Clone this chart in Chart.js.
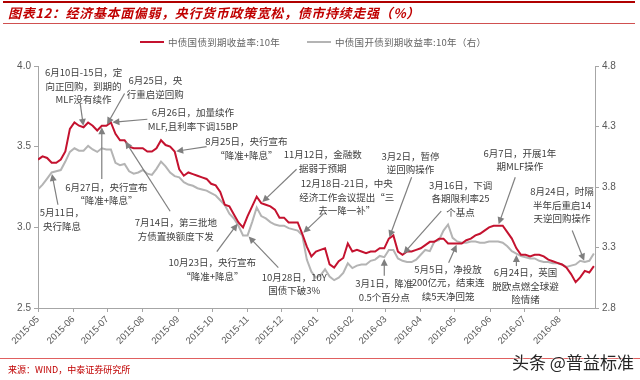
<!DOCTYPE html>
<html>
<head>
<meta charset="utf-8">
<script src="https://cdn.jsdelivr.net/npm/chart.js@4.4.0/dist/chart.umd.min.js"></script>
<style>
body { margin:0; width:640px; height:380px; overflow:hidden; background:#fff; position:relative; font-family:"Noto Sans CJK SC", sans-serif; }
canvas { position:absolute; left:0; top:0; }
.abs { position:absolute; white-space:nowrap; }
#topline { left:3px; top:1px; width:632px; height:2px; background:#b00000; }
#title { left:8px; top:4px; font-size:13px; font-weight:bold; font-style:italic; color:#c00000; line-height:18px; letter-spacing:0.65px; }
#titleline { left:3px; top:23px; width:632px; height:1px; background:#d05050; }
.leg { top:35px; font-size:9.5px; color:#666; line-height:14px; letter-spacing:0.3px; }
.leg i { display:inline-block; width:24px; height:2px; vertical-align:middle; margin-right:4px; position:relative; top:-1px; }
#footline { left:0; top:358px; width:640px; height:1px; background:#e06060; }
#source { left:8px; top:363px; font-size:9px; color:#c00000; line-height:14px; }
#mark { left:512px; top:351px; font-size:17px; color:#262626; line-height:22px; text-shadow:0 0 2px #fff, 0 0 2px #fff; }
</style>
</head>
<body>
<canvas id="chart" width="640" height="380"></canvas>
<div class="abs" id="topline"></div>
<div class="abs" id="title">图表12：经济基本面偏弱，央行货币政策宽松，债市持续走强（%）</div>
<div class="abs" id="titleline"></div>
<div class="abs leg" style="left:140px"><i style="background:#c4122f"></i>中债国债到期收益率:10年</div>
<div class="abs leg" style="left:307px"><i style="background:#b4b4b4"></i>中债国开债到期收益率:10年（右）</div>
<div class="abs" id="footline"></div>
<div class="abs" id="source">来源：WIND，中泰证券研究所</div>
<div class="abs" id="mark">头条 @普益标准</div>
<script>
// days counted from 2015-05-01
const days = [0,4,8,12,16,20,24,28,32,36,40,44,48,52,56,60,64,68,72,76,80,84,88,92,96,100,104,108,112,116,
  120,124,128,132,136,140,144,148,152,156,160,164,168,172,176,180,184,188,192,196,200,204,208,212,216,220,224,228,232,236,
  240,244,248,252,256,260,264,268,272,276,280,284,288,292,296,300,304,308,312,316,320,324,328,332,336,340,344,348,352,356,
  360,364,368,372,376,380,384,388,392,396,400,404,408,412,416,420,424,428,432,436,440,444,448,452,456,460,464,468,472,476,
  480,484,488];

// 中债国债到期收益率:10年 (left axis)
const cgbYield = [3.42,3.44,3.43,3.40,3.40,3.42,3.47,3.61,3.65,3.63,
  3.62,3.65,3.63,3.60,3.63,3.63,3.65,3.58,3.54,3.54,
  3.50,3.49,3.49,3.49,3.47,3.47,3.49,3.54,3.51,3.50,
  3.47,3.36,3.32,3.34,3.33,3.32,3.31,3.30,3.27,3.26,
  3.22,3.14,3.13,3.08,3.03,3.00,3.07,3.13,3.19,3.15,
  3.14,3.13,3.11,3.06,3.06,3.03,3.03,3.03,2.96,2.88,
  2.82,2.85,2.86,2.87,2.77,2.75,2.79,2.81,2.90,2.85,
  2.86,2.85,2.84,2.85,2.85,2.87,2.87,2.93,2.95,2.85,
  2.83,2.85,2.85,2.86,2.87,2.89,2.91,2.91,2.93,2.93,
  2.90,2.90,2.90,2.90,2.92,2.93,2.95,2.96,2.98,3.00,
  3.01,3.01,3.01,2.97,2.93,2.87,2.83,2.83,2.82,2.83,
  2.83,2.82,2.80,2.79,2.78,2.77,2.75,2.71,2.66,2.69,
  2.73,2.72,2.76];

// 中债国开债到期收益率:10年 (right axis)
const cdbYield = [3.78,3.82,3.87,3.92,3.93,3.94,4.01,4.09,4.12,4.10,
  4.10,4.14,4.11,4.09,4.12,4.11,4.11,4.00,3.98,3.99,
  3.93,3.91,3.92,3.94,3.91,3.90,3.95,4.01,3.97,3.92,
  3.89,3.88,3.84,3.82,3.81,3.79,3.78,3.77,3.75,3.73,
  3.69,3.65,3.58,3.54,3.48,3.40,3.40,3.51,3.63,3.56,
  3.54,3.51,3.49,3.48,3.48,3.46,3.45,3.44,3.40,3.20,
  3.10,3.05,3.07,3.12,3.06,3.03,3.05,3.09,3.17,3.13,
  3.15,3.16,3.16,3.19,3.20,3.23,3.22,3.28,3.28,3.21,
  3.19,3.18,3.18,3.20,3.24,3.28,3.27,3.35,3.36,3.44,
  3.49,3.38,3.35,3.34,3.34,3.35,3.35,3.34,3.34,3.35,
  3.35,3.35,3.34,3.31,3.27,3.25,3.23,3.22,3.21,3.21,
  3.19,3.18,3.18,3.17,3.17,3.16,3.14,3.15,3.16,3.19,
  3.18,3.19,3.25];

const monthTicks = [0,31,61,92,123,153,184,214,245,276,305,336,366,397,427,458];
const monthLabels = ['2015-05','2015-06','2015-07','2015-08','2015-09','2015-10','2015-11','2015-12',
  '2016-01','2016-02','2016-03','2016-04','2016-05','2016-06','2016-07','2016-08'];
const leftTicks = [2.5, 3.0, 3.5, 4.0];
const rightTicks = [2.8, 3.3, 3.8, 4.3, 4.8];

// text position / arrow start in [day, left-axis value]; tip = index into days on a series
const notes = [
  {lines:['5月11日，','央行降息'], at:[21,3.09], from:[17.5,3.14], tip:3, on:'cdb'},
  {lines:['6月10日-15日，定','向正回购，到期的','MLF没有续作'], at:[40,3.96], from:[37,3.77], tip:10, on:'cgb'},
  {lines:['6月25日，央','行重启逆回购'], at:[103,3.91], from:[76,3.83], tip:15, on:'cgb'},
  {lines:['6月26日，加量续作','MLF,且利率下调15BP'], at:[136,3.71], from:[96,3.67], tip:16, on:'cgb'},
  {lines:['6月27日，央行宣布','“降准+降息”'], at:[60,3.25], from:[56,3.30], tip:14, on:'cgb'},
  {lines:['7月14日，第三批地','方债置换额度下发'], at:[121,3.03], from:[116,3.10], tip:19, on:'cgb'},
  {lines:['8月25日，央行宣布','“降准+降息”'], at:[183,3.53], from:[148,3.50], tip:30, on:'cgb'},
  {lines:['11月12日，金融数','据弱于预期'], at:[250,3.45], from:[227,3.36], tip:49, on:'cgb'},
  {lines:['12月18日-21日，中央','经济工作会议提出“三','去一降一补”'], at:[271,3.27], from:[250,3.08], tip:58, on:'cgb'},
  {lines:['10月23日，央行宣布','“降准+降息”'], at:[153,2.78], from:[157,2.85], tip:44, on:'cgb'},
  {lines:['10月28日，10Y','国债下破3%'], at:[225,2.69], from:[211,2.75], tip:46, on:'cdb'},
  {lines:['3月1日，降准','0.5个百分点'], at:[304,2.65], from:[304,2.70], tip:76, on:'cdb'},
  {lines:['3月2日，暂停','逆回购操作'], at:[327,3.44], from:[328,3.31], tip:77, on:'cgb'},
  {lines:['3月16日，下调','各期限利率25','个基点'], at:[371,3.26], from:[354,3.10], tip:80, on:'cgb'},
  {lines:['5月5日，净投放','200亿元，结束连','续5天净回笼'], at:[360,2.74], from:[360.5,2.78], tip:92, on:'cgb'},
  {lines:['6月7日，开展1年','期MLF操作'], at:[423,3.46], from:[419,3.31], tip:101, on:'cgb'},
  {lines:['6月24日，英国','脱欧点燃全球避','险情绪'], at:[428,2.72], from:[420,2.76], tip:105, on:'cdb'},
  {lines:['8月24日，时隔','半年后重启14','天逆回购操作'], at:[460,3.22], from:[469,2.98], tip:120, on:'cdb'}
];

const notePlugin = {
  id: 'notes',
  afterDatasetsDraw(chart) {
    const ctx = chart.ctx;
    const x = chart.scales.x, y = chart.scales.y, y1 = chart.scales.y1;
    ctx.save();
    notes.forEach(n => {
      const tx = x.getPixelForValue(days[n.tip]);
      const ty = n.on === 'cgb' ? y.getPixelForValue(cgbYield[n.tip]) : y1.getPixelForValue(cdbYield[n.tip]);
      const fx = x.getPixelForValue(n.from[0]), fy = y.getPixelForValue(n.from[1]);
      const ang = Math.atan2(ty - fy, tx - fx);
      const ex = tx - Math.cos(ang) * 1.5, ey = ty - Math.sin(ang) * 1.5;
      ctx.strokeStyle = '#7f7f7f';
      ctx.fillStyle = '#7f7f7f';
      ctx.lineWidth = 1.2;
      ctx.beginPath();
      ctx.moveTo(fx, fy);
      ctx.lineTo(ex - Math.cos(ang) * 5, ey - Math.sin(ang) * 5);
      ctx.stroke();
      ctx.beginPath();
      ctx.moveTo(ex, ey);
      ctx.lineTo(ex - Math.cos(ang) * 7 + Math.sin(ang) * 3.5, ey - Math.sin(ang) * 7 - Math.cos(ang) * 3.5);
      ctx.lineTo(ex - Math.cos(ang) * 7 - Math.sin(ang) * 3.5, ey - Math.sin(ang) * 7 + Math.cos(ang) * 3.5);
      ctx.closePath();
      ctx.fill();

      const px = x.getPixelForValue(n.at[0]), py = y.getPixelForValue(n.at[1]);
      ctx.fillStyle = '#404040';
      ctx.font = '9.5px "Noto Sans CJK SC"';
      ctx.textAlign = 'center';
      ctx.textBaseline = 'middle';
      n.lines.forEach((t, i) => ctx.fillText(t, px, py + i * 13.5));
    });
    ctx.restore();
  }
};

const axisColor = '#a6a6a6';
const tickFont = {family: '"Liberation Sans", Arial, sans-serif', size: 10};

new Chart(document.getElementById('chart'), {
  type: 'line',
  data: {
    datasets: [
      {
        label: '中债国债到期收益率:10年',
        data: days.map((d, i) => ({x: d, y: cgbYield[i]})),
        borderColor: '#c4122f',
        borderWidth: 2,
        pointRadius: 0,
        tension: 0,
        yAxisID: 'y',
        order: 0
      },
      {
        label: '中债国开债到期收益率:10年（右）',
        data: days.map((d, i) => ({x: d, y: cdbYield[i]})),
        borderColor: '#b4b4b4',
        borderWidth: 2,
        pointRadius: 0,
        tension: 0,
        yAxisID: 'y1',
        order: 1
      }
    ]
  },
  options: {
    responsive: false,
    animation: false,
    devicePixelRatio: 1,
    layout: {padding: {top: 66, left: 0, right: 0, bottom: 0}},
    plugins: {legend: {display: false}, tooltip: {enabled: false}},
    scales: {
      x: {
        type: 'linear', min: 0, max: 489,
        afterBuildTicks: s => { s.ticks = monthTicks.map(v => ({value: v})); },
        afterFit: s => { s.height = 72; },
        grid: {drawOnChartArea: false, color: axisColor, tickLength: 4},
        border: {color: axisColor},
        ticks: {
          autoSkip: false, minRotation: 45, maxRotation: 45, padding: 2,
          color: '#595959', font: {family: tickFont.family, size: 9.5},
          callback: (v, i) => monthLabels[i]
        }
      },
      y: {
        position: 'left', min: 2.5, max: 4.0,
        afterBuildTicks: s => { s.ticks = leftTicks.map(v => ({value: v})); },
        afterFit: s => { s.width = 38; },
        grid: {drawOnChartArea: false, color: axisColor, tickLength: 4},
        border: {color: axisColor},
        ticks: {color: '#595959', font: tickFont, padding: 3, callback: v => v.toFixed(1)}
      },
      y1: {
        position: 'right', min: 2.8, max: 4.8,
        afterBuildTicks: s => { s.ticks = rightTicks.map(v => ({value: v})); },
        afterFit: s => { s.width = 45; },
        grid: {drawOnChartArea: false, color: axisColor, tickLength: 4},
        border: {color: axisColor},
        ticks: {color: '#595959', font: tickFont, padding: 3, callback: v => v.toFixed(1)}
      }
    }
  },
  plugins: [notePlugin]
});
</script>
</body>
</html>
